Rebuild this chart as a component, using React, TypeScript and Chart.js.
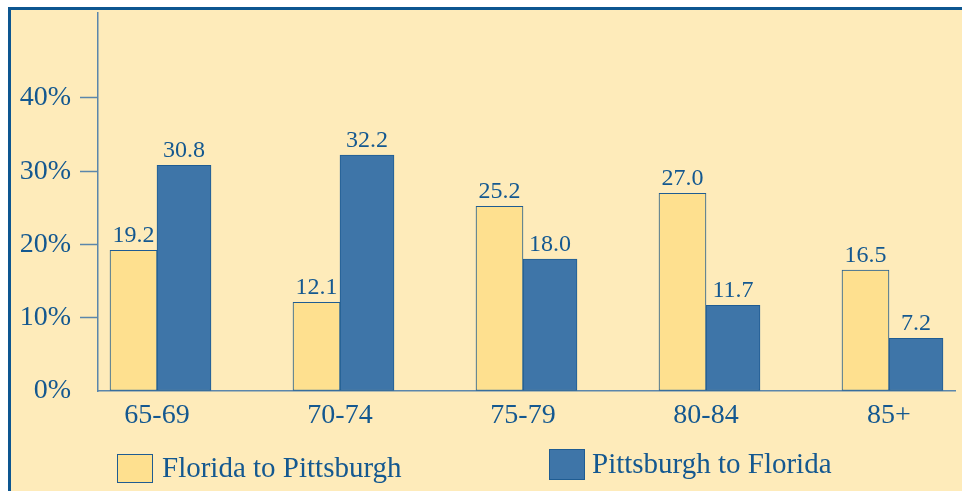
import React, { useEffect, useRef } from "react";
import { Chart, registerables } from "chart.js";

Chart.register(...registerables);

const CATEGORIES = ["65-69", "70-74", "75-79", "80-84", "85+"];
const FLORIDA_TO_PITTSBURGH = [19.2, 12.1, 25.2, 27.0, 16.5];
const PITTSBURGH_TO_FLORIDA = [30.8, 32.2, 18.0, 11.7, 7.2];
const Y_TICKS = [0, 10, 20, 30, 40];
const SERIES_LABELS = ["Florida to Pittsburgh", "Pittsburgh to Florida"];

const FONT = '"Liberation Serif", "Times New Roman", Times, serif';
const TEXT = "#145890";
const AXIS = "#5b86ab";
const BG = "#feebba";
const YELLOW = "#fee08f";
const BLUE = "#3e75a8";
const EDGE = "#1f5c92";

const dataLabelPlugin = {
  id: "dataLabels",
  afterDatasetsDraw(chart: any) {
    const ctx = chart.ctx;
    ctx.save();
    ctx.font = `24px ${FONT}`;
    ctx.fillStyle = TEXT;
    ctx.textAlign = "center";
    ctx.textBaseline = "alphabetic";
    chart.data.datasets.forEach((ds: any, di: number) => {
      const meta = chart.getDatasetMeta(di);
      meta.data.forEach((el: any, i: number) => {
        const v = ds.data[i].y;
        ctx.fillText(v.toFixed(1), el.x, el.y - 8);
      });
    });
    ctx.restore();
  },
};

const legendPlugin = {
  id: "customLegend",
  afterDraw(chart: any) {
    const ctx = chart.ctx;
    const pos = [
      { bx: 117, by: 454, bw: 36, bh: 29, tx: 162, ty: 477 },
      { bx: 549, by: 449, bw: 36, bh: 31, tx: 592, ty: 473 },
    ];
    ctx.save();
    chart.data.datasets.forEach((ds: any, i: number) => {
      const p = pos[i];
      ctx.fillStyle = ds.backgroundColor;
      ctx.fillRect(p.bx, p.by, p.bw, p.bh);
      ctx.strokeStyle = ds.borderColor;
      ctx.lineWidth = 1;
      ctx.strokeRect(p.bx + 0.5, p.by + 0.5, p.bw - 1, p.bh - 1);
      ctx.font = `29px ${FONT}`;
      ctx.fillStyle = TEXT;
      ctx.textAlign = "left";
      ctx.textBaseline = "alphabetic";
      ctx.fillText(ds.label, p.tx, p.ty);
    });
    ctx.restore();
  },
};

export default function App() {
  const canvasRef = useRef<HTMLCanvasElement | null>(null);

  useEffect(() => {
    if (!canvasRef.current) return;
    const chart = new Chart(canvasRef.current, {
      type: "bar",
      data: {
        datasets: [
          {
            label: SERIES_LABELS[0],
            data: FLORIDA_TO_PITTSBURGH.map((v, i) => ({ x: i, y: v })),
            backgroundColor: YELLOW,
            borderColor: EDGE,
            borderWidth: 1,
            borderSkipped: false,
            barThickness: 47,
          },
          {
            label: SERIES_LABELS[1],
            data: PITTSBURGH_TO_FLORIDA.map((v, i) => ({ x: i, y: v })),
            backgroundColor: BLUE,
            borderColor: EDGE,
            borderWidth: 1,
            borderSkipped: false,
            barThickness: 54,
          },
        ],
      },
      options: {
        animation: false,
        responsive: false,
        devicePixelRatio: 1,
        layout: { padding: { top: 13, right: 7, left: 0, bottom: 0 } },
        plugins: {
          legend: { display: false },
          tooltip: { enabled: false },
        },
        scales: {
          x: {
            type: "linear",
            offset: false,
            bounds: "data",
            min: -0.3224,
            max: 4.3607,
            afterBuildTicks: (scale: any) => {
              scale.ticks = CATEGORIES.map((_, i) => ({ value: i }));
            },
            afterFit: (scale: any) => {
              scale.height = 100;
              scale.paddingLeft = 0;
              scale.paddingRight = 0;
            },
            grid: { display: false, drawTicks: false, offset: false },
            border: { display: true, color: AXIS, width: 1.5 },
            ticks: {
              autoSkip: false,
              maxRotation: 0,
              padding: 8,
              color: TEXT,
              font: { family: FONT, size: 28 },
              callback: (v: any) => CATEGORIES[Math.round(Number(v))] ?? "",
            },
          },
          y: {
            type: "linear",
            min: 0,
            max: 51.6,
            afterBuildTicks: (scale: any) => {
              scale.ticks = Y_TICKS.map((v) => ({ value: v }));
            },
            afterFit: (scale: any) => {
              scale.width = 98;
              scale.paddingTop = 0;
              scale.paddingBottom = 0;
            },
            grid: {
              display: true,
              drawOnChartArea: false,
              drawTicks: true,
              tickLength: 18,
              tickWidth: 1.5,
              tickColor: (c: any) => (c.tick && c.tick.value === 0 ? "rgba(0,0,0,0)" : AXIS),
            },
            border: { display: true, color: AXIS, width: 1.5 },
            ticks: {
              padding: 9,
              color: TEXT,
              font: { family: FONT, size: 28 },
              callback: (v: any) => `${v}%`,
            },
          },
        },
      },
      plugins: [dataLabelPlugin, legendPlugin],
    } as any);
    return () => chart.destroy();
  }, []);

  return (
    <>
      <div
        style={{
          position: "fixed",
          left: 8,
          top: 7,
          right: 0,
          bottom: 0,
          background: BG,
          borderTop: "3px solid #0d5690",
          borderLeft: "3px solid #0d5690",
          boxSizing: "border-box",
        }}
      />
      <canvas
        ref={canvasRef}
        width={962}
        height={491}
        style={{ position: "fixed", left: 0, top: 0, width: 962, height: 491 }}
      />
    </>
  );
}
